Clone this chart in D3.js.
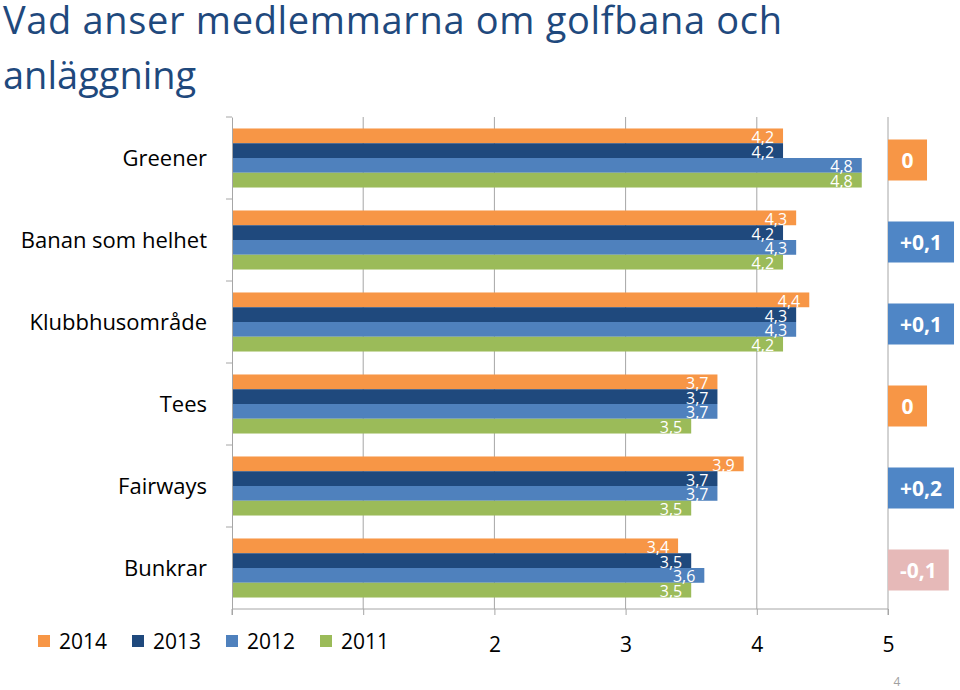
<!DOCTYPE html>
<html>
<head>
<meta charset="utf-8">
<script src="https://cdn.jsdelivr.net/npm/d3@7"></script>
<style>
  html, body { margin: 0; padding: 0; background: #ffffff; }
  svg { display: block; font-family: "Open Sans", Lato, sans-serif; }
</style>
</head>
<body>
<svg id="chart" width="960" height="690"></svg>
<script>
// ---- data ----
const titleLines = ["Vad anser medlemmarna om golfbana och", "anläggning"];
const categories = ["Greener", "Banan som helhet", "Klubbhusområde", "Tees", "Fairways", "Bunkrar"];
const years = ["2014", "2013", "2012", "2011"];
const v2014 = [4.2, 4.3, 4.4, 3.7, 3.9, 3.4];
const v2013 = [4.2, 4.2, 4.3, 3.7, 3.7, 3.5];
const v2012 = [4.8, 4.3, 4.3, 3.7, 3.7, 3.6];
const v2011 = [4.8, 4.2, 4.2, 3.5, 3.5, 3.5];
const changes = ["0", "+0,1", "+0,1", "0", "+0,2", "-0,1"];
const changeValues = [0, 0.1, 0.1, 0, 0.2, -0.1];
const xTicks = [0, 1, 2, 3, 4, 5];
const pageNumber = "4";

const seriesValues = [v2014, v2013, v2012, v2011];
const colors = ["#f79646", "#1f497d", "#4f81bd", "#9bbb59"];

// ---- layout ----
const svg = d3.select("#chart");
const plot = { left: 232, right: 888, top: 117, bottom: 609 };

const x = d3.scaleLinear().domain([0, 5]).range([plot.left, plot.right]);
const y = d3.scaleBand().domain(categories).range([plot.top, plot.bottom])
  .paddingInner(0.28).paddingOuter(0.14);
const ySub = d3.scaleBand().domain(years).range([0, y.bandwidth()]).padding(0);

// title
svg.append("g").selectAll("text").data(titleLines).join("text")
  .attr("x", 3)
  .attr("y", (d, i) => 34 + i * 55)
  .attr("fill", "#1f497d")
  .attr("font-size", 38)
  .text(d => d)
  .each(function (d, i) { if (i === 0) d3.select(this).attr("textLength", 779).attr("lengthAdjust", "spacing"); });

// gridlines
svg.append("g").selectAll("line").data(xTicks.filter(t => t > 0)).join("line")
  .attr("x1", d => x(d)).attr("x2", d => x(d))
  .attr("y1", plot.top).attr("y2", plot.bottom)
  .attr("stroke", "#a6a6a6").attr("stroke-width", 1);

// bars
const groups = svg.append("g").selectAll("g").data(categories).join("g")
  .attr("transform", d => `translate(0,${y(d)})`);

groups.each(function (cat, ci) {
  const g = d3.select(this);
  const rows = years.map((yr, si) => ({ yr, si, v: seriesValues[si][ci] }));
  g.selectAll("rect").data(rows).join("rect")
    .attr("x", x(0))
    .attr("y", d => ySub(d.yr))
    .attr("width", d => x(d.v) - x(0))
    .attr("height", ySub.bandwidth())
    .attr("fill", d => colors[d.si]);
  g.selectAll("text").data(rows).join("text")
    .attr("x", d => x(d.v) - 9)
    .attr("y", d => ySub(d.yr) + ySub.bandwidth() / 2 + 7)
    .attr("text-anchor", "end")
    .attr("fill", "#ffffff")
    .attr("font-size", 16)
    .text(d => String(d.v).replace(".", ","));
});

// y axis
const yAxis = d3.axisLeft(y).tickSize(0).tickPadding(25).tickFormat(d => d);
const yAxisG = svg.append("g").attr("transform", `translate(${plot.left},0)`).call(yAxis);
yAxisG.select(".domain").attr("stroke", "#a6a6a6");
yAxisG.selectAll("text").attr("font-size", 22).attr("fill", "#000000")
  .attr("font-family", "'Open Sans', Lato, sans-serif").attr("dy", "0.35em");
// band separator ticks
const boundaries = categories.slice(1).map(c => y(c) - y.step() * y.paddingInner() / 2);
boundaries.unshift(plot.top);
svg.append("g").selectAll("line").data(boundaries).join("line")
  .attr("x1", plot.left - 6).attr("x2", plot.left)
  .attr("y1", d => d).attr("y2", d => d)
  .attr("stroke", "#a6a6a6");

// x axis
const xAxis = d3.axisBottom(x).tickValues(xTicks).tickSize(6).tickPadding(22)
  .tickFormat(d => d >= 2 ? d : "");
const xAxisG = svg.append("g").attr("transform", `translate(0,${plot.bottom})`).call(xAxis);
xAxisG.select(".domain").attr("stroke", "#a6a6a6").attr("d", `M${plot.left},6V0H${plot.right}V6`);
xAxisG.selectAll(".tick line").attr("stroke", "#a6a6a6");
xAxisG.selectAll("text").attr("font-size", 21).attr("fill", "#000000")
  .attr("font-family", "'Open Sans', Lato, sans-serif");

// legend
const legend = svg.append("g").selectAll("g").data(years).join("g")
  .attr("transform", (d, i) => `translate(${38 + i * 94},635)`);
legend.append("rect").attr("width", 12).attr("height", 12).attr("fill", (d, i) => colors[i]);
legend.append("text").attr("x", 21).attr("y", 13.5).attr("font-size", 21).attr("fill", "#000000").text(d => d);

// change boxes
const changeColor = v => v > 0 ? "#4f86c6" : (v < 0 ? "#e6b9b8" : "#f79646");
const boxes = svg.append("g").selectAll("g").data(categories).join("g")
  .attr("transform", (d, i) => `translate(${plot.right},${y(d) + y.bandwidth() / 2 + 2})`);
boxes.each(function (cat, i) {
  const g = d3.select(this);
  const rect = g.append("rect").attr("fill", changeColor(changeValues[i]));
  const t = g.append("text").attr("fill", "#ffffff").attr("font-weight", "bold")
    .attr("font-size", 21).attr("text-anchor", "middle").attr("dy", "0.36em")
    .text(changes[i]);
  const w = t.node().getComputedTextLength() + (changes[i].length === 1 ? 27 : 24);
  rect.attr("x", 0).attr("y", -20.5).attr("width", w).attr("height", 41);
  t.attr("x", w / 2);
});

// page number
svg.append("text").attr("x", 897).attr("y", 686).attr("text-anchor", "middle")
  .attr("font-size", 12).attr("fill", "#a0a0a0").text(pageNumber);
</script>
</body>
</html>
